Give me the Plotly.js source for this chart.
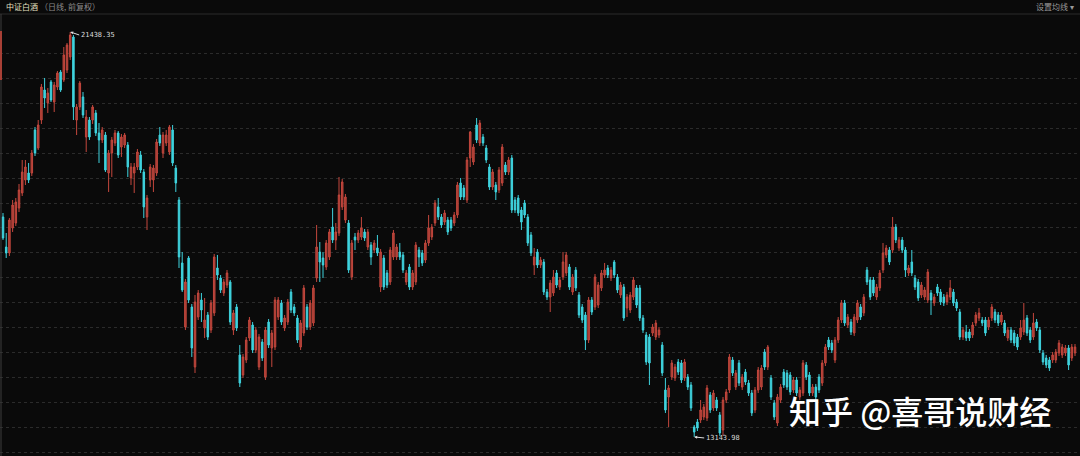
<!DOCTYPE html>
<html>
<head>
<meta charset="utf-8">
<script src="https://cdn.plot.ly/plotly-3.0.1.min.js"></script>
<style>
html,body{margin:0;padding:0;background:#0a0a0a;}
#chart{width:1080px;height:456px;}
</style>
</head>
<body>
<div id="chart"></div>
<script>
// 中证白酒 daily candles (日线, 前复权)
const openVals = [
17649,17034,16912,17424,17526,17833,18141,18407,18550,18550,
19431,19062,19635,20250,19984,20414,20004,20311,20618,20455,
20659,20926,21335,19635,19902,20107,19287,19635,19635,19779,
19369,19226,19328,18550,18959,19164,19369,19082,19123,19123,
18448,18550,18673,18919,18570,17649,18407,18407,18550,19328,
18959,19164,18980,19431,18652,17997,16707,15396,16809,15806,
14577,15601,15949,15375,15642,15334,15683,16604,16399,16092,
16256,16318,15334,15806,14823,14413,14720,15171,15437,14925,
14577,15089,14372,15498,14966,14986,15601,15887,15375,15498,
16113,15806,15580,14986,15273,15806,15396,15478,16399,16932,
16809,16625,16830,17444,17178,17321,17854,17587,17526,16420,
17239,17178,17239,17342,17034,17075,16973,17014,16215,16809,
16502,16318,16830,16830,16932,16871,16318,16625,16215,16318,
16973,16912,16768,17116,17239,17526,17854,17649,17546,17587,
17587,17526,17690,18345,18243,17997,18857,18775,19533,19164,
19287,19062,18673,18263,18304,18202,18345,18714,18570,18857,
17997,18038,17792,17936,17649,17280,16666,16932,16666,16727,
16113,16010,16092,16502,16215,16420,16502,16625,16113,16563,
16051,15806,15642,15130,15949,15806,15846,16195,16461,16604,
16399,16727,16420,16051,16215,15785,15744,16010,16195,16195,
15580,15232,15191,15273,15191,15232,15027,14106,13962,14372,
14352,14679,14659,14352,14372,14208,13348,13450,13491,13553,
13532,14003,13737,13901,13594,13286,13901,14106,14720,14167,
14659,14167,14474,14249,14044,13696,14106,14167,14884,14577,
14352,13840,13430,13901,14474,14454,14413,14106,14311,13962,
14044,14618,14413,14044,14167,14372,14249,14659,15130,15068,
14720,15130,15539,15887,15437,15498,15273,15539,15806,15683,
16563,16359,16359,16010,16195,16563,16871,16973,16973,17444,
17014,17178,16973,16502,16727,16399,16318,16051,16010,15949,
16092,15887,16215,16113,16010,15908,16010,16113,15908,15703,
15191,15294,15294,15232,15478,15580,15539,15539,15396,15580,
15703,15642,15498,15478,15171,15334,15273,15191,15191,15294,
15580,15334,15191,15498,15334,14864,14761,14720,14720,14720,
14864,14823,14864,14966,14761,14864
];
const closeVals = [
17219,16912,17587,17895,17956,18202,18570,18673,18407,18959,
18959,19533,20311,20086,20188,20045,20352,20598,20250,20967,
21171,21376,19902,19902,20393,19738,19697,19287,19902,19369,
19226,19431,18611,18959,19226,19369,18919,19287,19328,18673,
18673,18673,18980,18611,17854,18038,18673,18652,19185,19164,
19328,19328,19492,18755,18345,16830,16154,16318,15949,14966,
15908,16092,15744,15539,15191,15887,16830,16461,16154,16318,
16502,15498,15683,15375,14249,14782,15130,15539,14925,15334,
15191,14761,15334,15027,15273,15949,15949,15498,15580,15908,
15744,15683,15130,15478,16195,15396,15887,16195,17034,16727,
16666,17116,17342,17178,17342,18100,18366,18058,16563,17116,
17178,17321,17424,17219,17342,16830,17116,16912,16932,16215,
16256,16973,17321,17034,16830,16563,16502,16215,16502,17075,
16830,16707,17116,17424,17444,17936,17649,17485,17731,17342,
17424,17690,18304,18058,18058,18816,19390,19082,19226,19574,
19164,18816,18263,18570,18161,18611,19082,18570,18816,17792,
17792,17731,17546,17690,17116,16912,16830,16666,16768,16113,
16010,16297,16420,16256,16359,16727,16871,16215,16420,16195,
15642,15539,15130,15949,15703,16420,16256,16502,16563,16461,
16563,16461,16154,16256,15580,16010,16051,16359,15846,15580,
15334,14679,14659,15396,15478,15334,14454,13696,14147,14659,
14577,14474,14311,14679,14167,13737,13245,13327,13696,13758,
14147,13696,14044,13737,13225,13901,14065,14782,14454,14454,
14249,14372,14270,14044,13635,14106,14515,14556,14577,14986,
13962,13553,13962,14167,14208,14167,14065,14311,14044,14106,
14659,14372,14044,14167,13962,14106,14659,14986,14986,14925,
15130,15539,15887,15478,15601,15294,15601,15887,15601,16010,
16318,16010,16092,16215,16502,16912,17014,16727,17444,17178,
17178,16973,16563,16604,16502,16215,15990,16256,16154,16522,
15949,16010,16092,15908,15887,16051,16195,15887,15785,15191,
15334,15171,15171,15437,15642,15683,15478,15273,15539,15806,
15539,15478,15642,15273,15334,15130,15068,14986,15375,15539,
15273,15130,15478,15375,14925,14679,14618,14556,14823,14884,
15068,14986,14966,14618,14986,14986
];
const highVals = [
17731,17321,17628,17997,18038,18325,18816,18816,18755,19021,
19492,19635,20373,20496,20291,20455,20414,20639,20659,21130,
21212,21438.35,21376,19963,20434,20209,19840,19697,19943,19840,
19574,19492,19390,19021,19287,19431,19410,19349,19369,19185,
18755,18755,19041,19000,18632,18100,18734,18714,19246,19492,
19390,19431,19533,19533,18714,18058,16932,16379,16850,15867,
16051,16154,16092,15990,15703,15949,16891,16871,16461,16379,
16563,16359,15744,15867,15027,14843,15191,15601,15498,15396,
15253,15150,15396,15560,15334,16010,16010,15949,15642,15969,
16174,15867,15642,15539,16256,15867,15949,16256,17485,17137,
16932,17178,17403,17833,17526,18468,18427,18120,17587,17178,
17321,17383,17649,17403,17403,17137,17178,17280,16993,16871,
16563,17034,17383,17096,17116,16932,16563,16686,16563,17137,
17034,16973,17178,17690,17506,17997,18038,17710,17792,17649,
17649,17751,18366,18448,18304,18878,19410,19144,19676,19635,
19349,19123,18734,18632,18366,18673,19144,18775,18878,18919,
18058,18100,17854,17997,17710,17342,17014,16993,16830,16789,
16174,16359,16563,16563,16420,16932,16932,16686,16481,16625,
16113,15867,15703,16010,16010,16481,16318,16563,16707,16666,
16625,16768,16481,16318,16277,16072,16113,16420,16256,16256,
15642,15294,15253,15457,15539,15396,15089,14352,14208,14720,
14638,14741,14720,14741,14433,14270,13389,13512,13901,13819,
14208,14065,14106,13962,13655,13962,14126,14843,14782,14515,
14720,14433,14536,14311,14106,14167,14577,14618,14945,15027,
14413,13901,14024,14229,14536,14515,14474,14372,14372,14167,
14720,14679,14474,14229,14229,14433,14720,15048,15191,15130,
15191,15601,15949,15949,15662,15560,15662,15949,15867,16072,
16625,16420,16420,16277,16563,17116,17075,17034,17649,17506,
17239,17239,17034,16666,16973,16461,16379,16318,16215,16584,
16154,16072,16277,16174,16072,16113,16359,16174,15969,15765,
15396,15437,15355,15498,15703,15785,15601,15601,15601,15867,
15765,15703,15703,15539,15396,15396,15334,15253,15539,15887,
15642,15396,15683,15560,15396,14925,14823,14782,14884,14945,
15130,15048,15027,15027,15048,15048
];
const lowVals = [
17178,16809,16850,17342,17465,17751,18079,18304,18345,18489,
18898,19021,19554,19881,19779,20004,19799,20250,20209,20414,
20598,20864,19635,19328,19840,19676,18980,19226,19554,19308,
18755,19164,18570,18161,18468,19103,18857,18878,19062,18468,
18304,18141,18611,18550,17628,17383,18263,18161,18489,19103,
18857,19103,18919,18693,18161,16604,16113,15334,15887,14782,
14454,15539,15498,15171,15130,15273,15621,16359,16092,16031,
16195,15437,15232,15314,14167,14352,14659,15109,14864,14864,
14515,14700,14311,14966,14577,14925,15539,15437,15314,15437,
15683,15621,15068,14925,15212,15334,15334,15416,16318,16318,
16399,16563,16768,17116,16973,17260,17792,17526,16502,16359,
16973,17116,17178,17157,16973,16666,16912,16850,16113,16154,
16195,16256,16768,16768,16768,16502,16256,16154,16154,16256,
16625,16645,16707,17055,17178,17465,17587,17424,17485,17280,
17362,17465,17628,17997,17997,17936,18673,18714,19164,19103,
19103,18755,18202,18202,17997,18141,18284,18509,18509,17731,
17731,17669,17383,17628,17055,16850,16461,16604,16604,16051,
15949,15703,16031,16195,16154,16359,16440,16154,16051,16133,
15580,15478,14925,15068,15642,15744,15785,16133,16399,16399,
16338,16399,16092,15990,15519,15601,15683,15949,15785,15519,
15273,14618,14208,15212,15130,15171,14392,13635,13348,14311,
14290,14413,14249,14290,14106,13676,13143.98,13266,13430,13491,
13471,13635,13676,13676,13164,13164,13840,14044,14392,14106,
14188,14106,14208,13983,13573,13635,14044,14106,14515,14515,
13901,13491,13368,13840,14147,14106,14003,14044,13983,13901,
13983,14311,13983,13983,13901,14044,14188,14597,14925,14864,
14659,15068,15478,15416,15375,15232,15212,15478,15539,15621,
16256,15949,16031,15949,16133,16502,16809,16666,16912,17116,
16953,16912,16420,16440,16440,16154,15928,15990,15949,15887,
15642,15826,16031,15846,15826,15846,15949,15826,15724,15130,
15130,15109,15109,15171,15416,15519,15416,15212,15334,15519,
15478,15416,15437,15212,15109,15068,15007,14925,15130,15232,
15212,15068,15130,15314,14864,14618,14556,14495,14659,14659,
14802,14761,14802,14515,14700,14802
];
const titleName = "中证白酒";
const titleSub = "（日线, 前复权）";
const menuLabel = "设置均线 ▾";
const watermark = "知乎 @喜哥说财经";
const gridTop = 21001, gridStep = 511, gridCount = 17;

const n = Math.min(openVals.length, closeVals.length, highVals.length, lowVals.length);
const xs = [];
for (let i = 0; i < n; i++) xs.push(i);

let hiIdx = 0, loIdx = 0;
for (let i = 0; i < n; i++) {
  if (highVals[i] > highVals[hiIdx]) hiIdx = i;
  if (lowVals[i] < lowVals[loIdx]) loIdx = i;
}

const trace = {
  type: 'candlestick',
  x: xs,
  open: openVals.slice(0, n),
  high: highVals.slice(0, n),
  low: lowVals.slice(0, n),
  close: closeVals.slice(0, n),
  increasing: {line: {color: '#c4473d', width: 1}, fillcolor: '#a23c33'},
  decreasing: {line: {color: '#3fd3de', width: 1}, fillcolor: '#3fd3de'},
  whiskerwidth: 0,
  hoverinfo: 'skip',
  showlegend: false
};

const tickvals = [];
for (let k = 0; k < gridCount; k++) tickvals.push(gridTop - gridStep * k);

function py(px) { return 1 - px / 456; }
function pxp(px) { return px / 1080; }

const layout = {
  width: 1080, height: 456,
  margin: {l: 0, r: 0, t: 0, b: 0, pad: 0},
  paper_bgcolor: '#0a0a0a',
  plot_bgcolor: '#0a0a0a',
  boxgap: 0.32,
  xaxis: {range: [-0.94, 336.56], showgrid: false, zeroline: false, showticklabels: false,
          showline: false, ticks: '', rangeslider: {visible: false}, fixedrange: true},
  yaxis: {range: [12754, 22093], showgrid: true, gridcolor: '#2b2b2b', griddash: 'dot', gridwidth: 1,
          tickvals: tickvals, zeroline: false, showticklabels: false, showline: false, ticks: '', fixedrange: true},
  shapes: [
    {type: 'line', xref: 'paper', yref: 'paper', x0: 0, x1: 1, y0: py(14), y1: py(14),
     line: {color: '#2a2a2a', width: 1}},
    {type: 'line', xref: 'paper', yref: 'paper', x0: pxp(1), x1: pxp(1), y0: 0, y1: py(14),
     line: {color: '#3c3c3c', width: 1}},
    {type: 'rect', xref: 'paper', yref: 'paper', x0: 0, x1: pxp(2), y0: py(80), y1: py(31),
     line: {width: 0}, fillcolor: '#a84036'}
  ],
  annotations: [
    {xref: 'paper', yref: 'paper', x: pxp(4), y: py(7), xanchor: 'left', yanchor: 'middle',
     text: titleName, showarrow: false,
     font: {family: 'Noto Sans CJK SC', size: 8, color: '#e6e0c0'}},
    {xref: 'paper', yref: 'paper', x: pxp(38), y: py(7), xanchor: 'left', yanchor: 'middle',
     text: titleSub, showarrow: false,
     font: {family: 'Noto Sans CJK SC', size: 8, color: '#8c8c8c'}},
    {xref: 'paper', yref: 'paper', x: pxp(1076), y: py(7), xanchor: 'right', yanchor: 'middle',
     text: menuLabel, showarrow: false,
     font: {family: 'Noto Sans CJK SC', size: 8, color: '#9a9a9a'}},
    {x: hiIdx, y: highVals[hiIdx], text: highVals[hiIdx].toFixed(2), showarrow: true,
     ax: 9, ay: 3, xanchor: 'left', yanchor: 'middle', arrowhead: 2, arrowsize: 0.6, arrowwidth: 1,
     arrowcolor: '#dddddd', standoff: 0,
     font: {family: 'DejaVu Sans Mono', size: 7, color: '#dcdcdc'}},
    {x: loIdx, y: lowVals[loIdx], text: lowVals[loIdx].toFixed(2), showarrow: true,
     ax: 10, ay: 1, xanchor: 'left', yanchor: 'middle', arrowhead: 2, arrowsize: 0.6, arrowwidth: 1,
     arrowcolor: '#dddddd', standoff: 0,
     font: {family: 'DejaVu Sans Mono', size: 7, color: '#dcdcdc'}},
    {xref: 'paper', yref: 'paper', x: pxp(920), y: py(410), xanchor: 'center', yanchor: 'middle',
     text: watermark, showarrow: false,
     font: {family: 'Noto Sans CJK SC', size: 32, color: '#ffffff', weight: 500}}
  ]
};

Plotly.newPlot('chart', [trace], layout, {staticPlot: true, displayModeBar: false});
</script>
</body>
</html>
